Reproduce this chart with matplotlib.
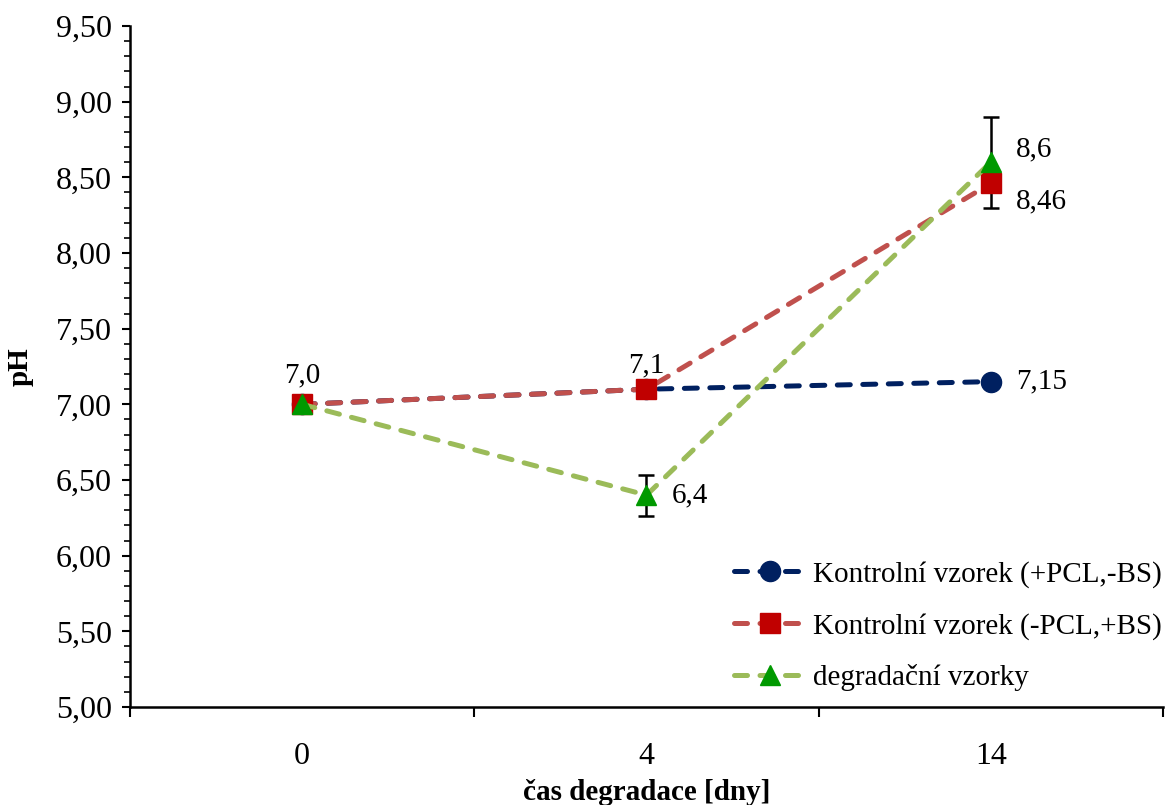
import matplotlib
matplotlib.use("Agg")
import matplotlib.pyplot as plt
from matplotlib.ticker import FixedLocator, MultipleLocator, FuncFormatter

plt.rcParams['font.family'] = ['Liberation Serif', 'DejaVu Serif']

categories = ["0", "4", "14"]
blue_vals = [7.0, 7.10, 7.15]
red_vals = [7.0, 7.10, 8.46]
green_vals = [7.0, 6.40, 8.60]
green_err = [0.0, 0.135, 0.30]

series_names = ["Kontrolní vzorek (+PCL,-BS)", "Kontrolní vzorek (-PCL,+BS)", "degradační vzorky"]

x = list(range(len(categories)))

fig = plt.figure(figsize=(11.68, 8.05), dpi=100)
ax = fig.add_axes([130/1168, 1-707/805, (1163-130)/1168, (707-26)/805])

FS_TICK = 23
FS = 21
lw = 3.6
dash = (2.6, 2.5)

# error bars for degradation samples (under markers)
ax.errorbar(x[1:], green_vals[1:], yerr=green_err[1:], fmt='none', ecolor='black',
            elinewidth=1.8, capsize=6, capthick=1.8, zorder=2)

common = dict(lw=lw, dashes=dash, dash_capstyle='round')
hb, = ax.plot(x, blue_vals, color='#002060', marker='o', ms=14.5,
              mfc='#002060', mec='#002060', label=series_names[0], zorder=3, **common)
hr, = ax.plot(x, red_vals, color='#C0504D', marker='s', ms=14,
              mfc='#C00000', mec='#C00000', label=series_names[1], zorder=4, **common)
hg, = ax.plot(x, green_vals, color='#9BBB59', marker='^', ms=15,
              mfc='#009900', mec='#009900', label=series_names[2], zorder=5, **common)

# data labels
def lab(txt, xi, yi, dx, dy, ha='left'):
    ax.annotate(txt, (xi, yi), xytext=(dx, dy), textcoords='offset points',
                ha=ha, va='center', fontsize=FS)

lab("7,0", x[0], red_vals[0], 0, 21, ha='center')
lab("7,1", x[1], red_vals[1], 0, 17, ha='center')
lab("6,4", x[1], green_vals[1], 18, 0)
lab("8,6", x[2], green_vals[2], 18, 9)
lab("8,46", x[2], red_vals[2], 18, -13)
lab("7,15", x[2], blue_vals[2], 18, 0)

ax.set_xlim(-0.5, 2.5)
ax.set_ylim(5.0, 9.5)

ax.yaxis.set_major_locator(MultipleLocator(0.5))
ax.yaxis.set_minor_locator(MultipleLocator(0.1))
ax.yaxis.set_major_formatter(FuncFormatter(lambda v, p: f"{v:.2f}".replace('.', ',')))

ax.xaxis.set_major_locator(FixedLocator([-0.5, 0.5, 1.5, 2.5]))
ax.xaxis.set_major_formatter(FuncFormatter(lambda v, p: ""))
ax.xaxis.set_minor_locator(FixedLocator(x))
ax.set_xticks(x, categories, minor=True)

ax.tick_params(axis='y', which='major', direction='out', length=6, width=1.5, labelsize=FS_TICK, pad=7)
ax.tick_params(axis='y', which='minor', direction='out', length=4, width=1.2)
ax.tick_params(axis='x', which='major', direction='out', length=7, width=1.5)
ax.tick_params(axis='x', which='minor', length=0, labelsize=FS_TICK, pad=25)

for s in ['top', 'right']:
    ax.spines[s].set_visible(False)
for s in ['left', 'bottom']:
    ax.spines[s].set_linewidth(1.8)
    ax.spines[s].set_color('black')

ax.set_ylabel("pH", fontsize=FS, fontweight='bold', labelpad=16)
ax.set_xlabel("čas degradace [dny]", fontsize=FS, fontweight='bold', labelpad=6)

leg = ax.legend(handles=[hb, hr, hg], loc='upper left',
                bbox_to_anchor=(734/1168, 1-561/805), bbox_transform=fig.transFigure,
                frameon=False, fontsize=FS, handlelength=2.5, handletextpad=0.2,
                labelspacing=0.85, borderpad=0, borderaxespad=0)

fig.savefig("out.png", dpi=100)
